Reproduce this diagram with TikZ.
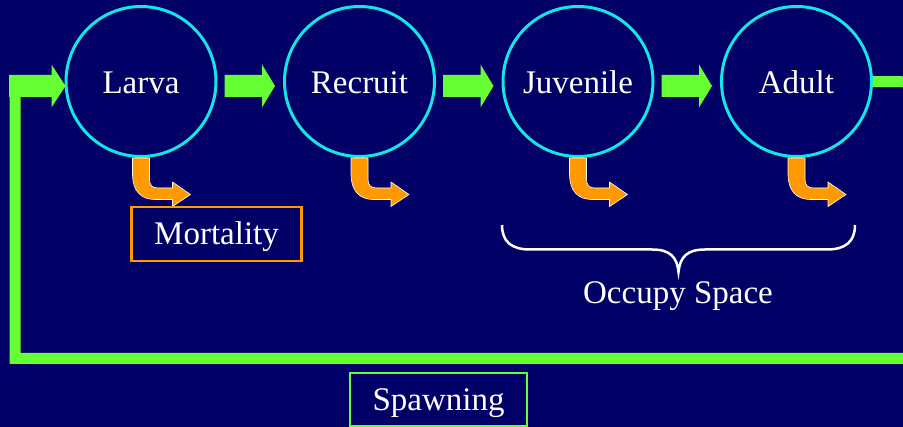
\documentclass[tikz,border=0pt]{standalone}
\usepackage{fontspec}
\setmainfont{Liberation Serif}
\usetikzlibrary{calc}
\definecolor{navy}{RGB}{0,0,102}
\definecolor{cyanc}{RGB}{20,230,230}
\definecolor{grn}{RGB}{102,255,51}
\definecolor{orng}{RGB}{255,153,0}
\tikzset{
  stage/.style={circle,draw=cyanc,line width=3pt,minimum size=150pt,inner sep=0pt,
    text=white,font=\fontsize{33}{40}\selectfont,text height=25pt,text depth=0pt},
  lbl/.style={text=white,font=\fontsize{33}{40}\selectfont,text height=22pt,text depth=0pt},
  lblbox/.style={lbl,draw,line width=2.5pt,inner sep=0pt},
  garrow/.style={fill=grn},
  oarrow/.style={fill=orng,draw=white,line width=0.6pt,line join=round},
  loopline/.style={draw=grn,line width=11pt,line join=miter},
  bracel/.style={draw=white,line width=2.5pt}
}
\begin{document}
\begin{tikzpicture}[x=1pt,y=-1pt]
\fill[navy] (0,0) rectangle (903,427);
\useasboundingbox (0,0) rectangle (903,427);
\clip (0,0) rectangle (903,427);
% stages
\node[stage] (L) at (141,81.5) {Larva};
\node[stage] (R) at (359.5,81.5) {Recruit};
\node[stage] (J) at (578,81.5) {Juvenile};
\node[stage] (A) at (796.5,81.5) {Adult};
% green arrows between stages
\foreach \a/\b in {L/R,R/J,J/A}{
  \fill[garrow] let \p1=([shift={(7,4.5)}]\a.east), \p2=([shift={(-8,4.5)}]\b.west) in
    (\x1,\y1+11pt) -- (\x2-13pt,\y1+11pt) -- (\x2-13pt,\y1+21.5pt) -- (\x2,\y1)
    -- (\x2-13pt,\y1-21.5pt) -- (\x2-13pt,\y1-11pt) -- (\x1,\y1-11pt) -- cycle;
}
% orange mortality arrows
\foreach \n in {L,R,J,A}{
  \path[oarrow] ([shift={(-8.5,0)}]\n.south) -- ([shift={(-8.5,16)}]\n.south)
    .. controls ([shift={(-8.5,33)}]\n.south) and ([shift={(0,41.5)}]\n.south) .. ([shift={(14,41.5)}]\n.south)
    -- ([shift={(31.5,41.5)}]\n.south) -- ([shift={(31.5,48.5)}]\n.south)
    -- ([shift={(49.5,36.5)}]\n.south) -- ([shift={(31.5,24)}]\n.south)
    -- ([shift={(31.5,30)}]\n.south) -- ([shift={(17,30)}]\n.south)
    .. controls ([shift={(11,30)}]\n.south) and ([shift={(8.5,27)}]\n.south) .. ([shift={(8.5,21)}]\n.south)
    -- ([shift={(8.5,0)}]\n.south) -- cycle;
}
% spawning loop
\coordinate (re) at (930,82);
\coordinate (lb) at (15,358.5);
\coordinate (lt) at (15,92);
\path[loopline] (A.east) -- (re) |- (lb) -- (lt);
\fill[garrow] let \p1=([shift={(1,4.5)}]L.west), \p2=(lb) in
  (\x2-6pt,\y1+11pt) -- (\x1-14pt,\y1+11pt) -- (\x1-14pt,\y1+21.5pt) -- (\p1)
  -- (\x1-14pt,\y1-21.5pt) -- (\x1-14pt,\y1-11pt) -- (\x2-6pt,\y1-11pt) -- cycle;
% labels
\node[lblbox,draw=orng,minimum width=170pt,minimum height=54pt] (mort) at (216.5,234) {Mortality};
\node[lblbox,draw=grn,minimum width=177pt,minimum height=53pt] (spawn) at (438.5,399.5) {Spawning};
% brace
\path[bracel] (502,225) .. controls (502,242) and (512,249.5) .. (530,249.5) -- (652,249.5)
  .. controls (670,249.5) and (677,257) .. (678.5,272)
  .. controls (680,257) and (687,249.5) .. (705,249.5) -- (827,249.5)
  .. controls (845,249.5) and (855,242) .. (855,225);
\node[lbl] (occ) at (678,293) {Occupy Space};
\end{tikzpicture}
\end{document}
